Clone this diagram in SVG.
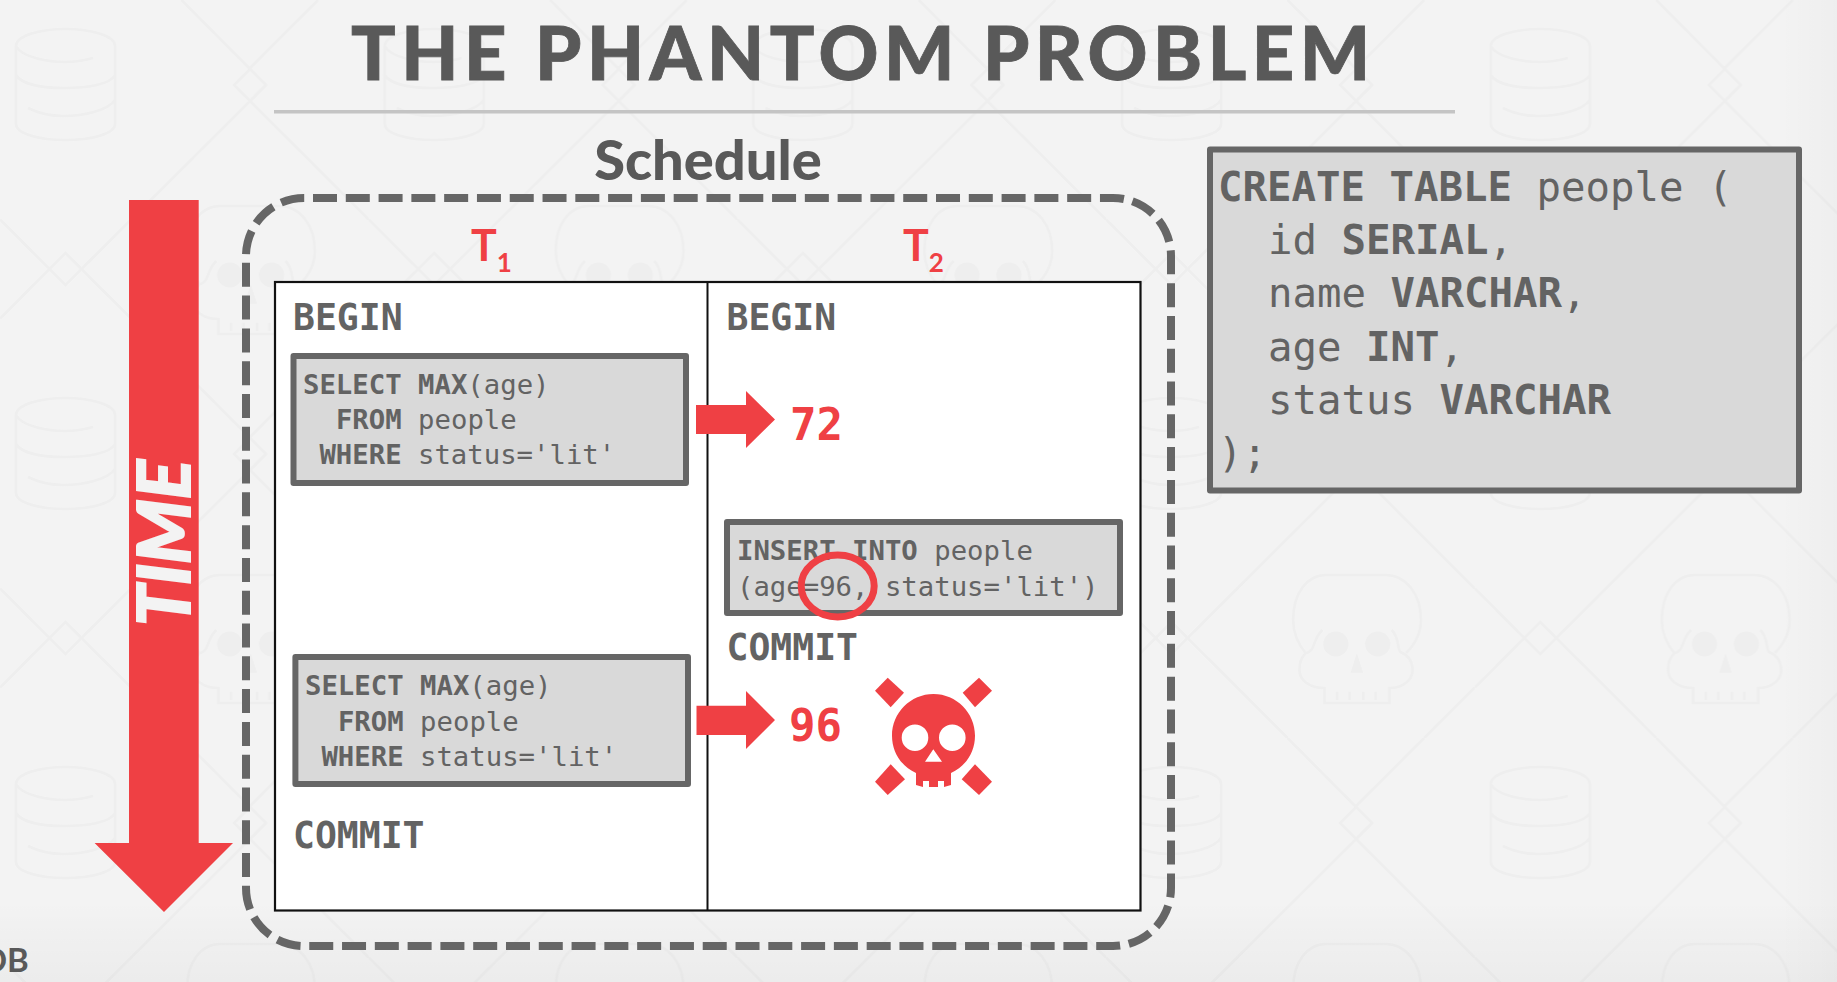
<svg xmlns="http://www.w3.org/2000/svg" width="1837" height="982" viewBox="0 0 1837 982">
<style>
.sans{font-family:"Lato","Liberation Sans",sans-serif;font-weight:900;fill:#595959}
.mono{font-family:"DejaVu Sans Mono","Liberation Mono",monospace;fill:#636363}
.sql{font-size:27.3px}
.big{font-size:36.4px;font-weight:700}
.ddl{font-size:40.7px}
.b{font-weight:700}
.red{fill:#ef4044}
.tn{font-family:"Lato","Liberation Sans",sans-serif;font-weight:700;fill:#ef4044}
.box{fill:#d9d9d9;stroke:#666;stroke-width:6;stroke-linejoin:round}
.wm{fill:none;stroke:#eeeeee;stroke-width:2.6}
.wf{fill:#eeeeee}
</style>
<defs>
<pattern id="bg" width="368.7" height="369" patternUnits="userSpaceOnUse">
<g class="wm">
<path d="M250 69L266 85L250 101L234 85ZM65.500 253L81.500 269L65.500 285L49.500 269Z"/>
<path d="M81.500 269L181.500 369M181.500 0L250 69M250 101L368.700 219.700M0 219.500L49.500 269M266 85L81.500 269M49.500 269L0 318.500M368.700 318.500L318 369M318 0L250 68"/>
<path d="M16 46V124C16 134 40 140 65.5 140S115 134 115 124V46C115 36 92 29 65.5 29S16 36 16 46ZM16 46C22 58 50 62 65 62C76 62 86 60 93 58M16 75C22 85 45 88 65 88S110 85 115 75M28 108C40 114 50 116 63 116C85 116 108 110 115 100"/>
<path d="M199.6 284.3C192 275 187 265 187 251C187 225 200 206 220.5 206H279C300 206 314.8 225 314.8 251C314.8 265 309 275 300 284M199.6 284.3C194 289 193.3 295 193.3 301C193.3 311 203 319 218.4 319V334H283.4V319C297 319 306.4 311 306.4 301C306.4 293 302 286 293.8 282.7C291 278 293 268 285.5 261M199.6 284.3C210 282 206 270 216.3 261M231 322.7V331M243.6 322.7V331M257 322.7V331M269.5 322.7V331"/>
</g>
<ellipse class="wf" cx="229.7" cy="275" rx="12.6" ry="12.5"/>
<ellipse class="wf" cx="271.6" cy="275" rx="12.6" ry="12.5"/>
<path class="wf" d="M250.7 284.3L257 303.7H244.4Z"/>
</pattern>
<linearGradient id="fadeB" x1="0" y1="0" x2="0" y2="1"><stop offset="0" stop-color="#000" stop-opacity="0"/><stop offset="1" stop-color="#000" stop-opacity=".03"/></linearGradient>
<linearGradient id="fadeR" x1="0" y1="0" x2="1" y2="0"><stop offset="0" stop-color="#000" stop-opacity="0"/><stop offset="1" stop-color="#000" stop-opacity=".02"/></linearGradient>
</defs>

<g id="background">
<rect width="1837" height="982" fill="#f3f3f3"/>
<rect width="1837" height="982" fill="url(#bg)"/>
<rect y="900" width="1837" height="82" fill="url(#fadeB)"/>
<rect x="1780" width="57" height="982" fill="url(#fadeR)"/>
</g>

<g id="title">
<text class="sans" x="351" y="80" font-size="74" letter-spacing="5.5" stroke="#595959" stroke-width="0.8">THE PHANTOM PROBLEM</text>
<rect x="274" y="110" width="1181" height="3.5" fill="#c4c4c4"/>
</g>
<text id="logo" class="sans" x="-18" y="972" font-size="33" style="font-weight:700">DB</text>

<g id="schedule">
<text class="sans" x="708" y="180" font-size="56" text-anchor="middle">Schedule</text>
<rect x="246" y="198" width="925" height="748" rx="58" ry="58" fill="none" stroke="#666" stroke-width="8" stroke-dasharray="24 8.79" stroke-dashoffset="-9"/>
</g>

<g id="t1-label"><text class="tn" x="471" y="261" font-size="43">T<tspan font-size="26" dy="11">1</tspan></text></g>
<g id="t2-label"><text class="tn" x="903" y="261" font-size="43">T<tspan font-size="26" dy="11">2</tspan></text></g>

<g id="table">
<rect x="275" y="282" width="865.500" height="628.500" fill="#fff" stroke="#111" stroke-width="2.200"/>
<line x1="707.500" y1="282" x2="707.500" y2="910.500" stroke="#111" stroke-width="2"/>
</g>

<g id="t1-begin"><text class="mono big" x="293" y="329.500">BEGIN</text></g>
<g id="t2-begin"><text class="mono big" x="726.500" y="329.500">BEGIN</text></g>

<g id="t1-select-1">
<rect class="box" x="293.500" y="356" width="392.500" height="127"/>
<text class="mono sql" x="303" y="393.500"><tspan class="b">SELECT MAX</tspan>(age)</text>
<text class="mono sql" x="335.900" y="428.500"><tspan class="b">FROM</tspan> people</text>
<text class="mono sql" x="319.400" y="464"><tspan class="b">WHERE</tspan> status='lit'</text>
</g>

<g id="result-72"><text class="mono b red" x="790" y="440" font-size="44">72</text></g>

<g id="t2-insert">
<rect class="box" x="727" y="522" width="393" height="91"/>
<text class="mono sql" x="737" y="559.500"><tspan class="b">INSERT INTO</tspan> people</text>
<text class="mono sql" x="737" y="595.500">(age=96, status='lit')</text>
<ellipse cx="837.700" cy="586" rx="36.500" ry="31" fill="none" stroke="#ef4044" stroke-width="7"/>
</g>

<g id="t2-commit"><text class="mono big" x="726.500" y="660">COMMIT</text></g>

<g id="t1-select-2">
<rect class="box" x="295.400" y="657" width="392.600" height="127"/>
<text class="mono sql" x="305" y="695"><tspan class="b">SELECT MAX</tspan>(age)</text>
<text class="mono sql" x="337.900" y="730.500"><tspan class="b">FROM</tspan> people</text>
<text class="mono sql" x="321.400" y="766"><tspan class="b">WHERE</tspan> status='lit'</text>
</g>

<g id="result-96"><text class="mono b red" x="789" y="741" font-size="44">96</text></g>

<g id="skull" class="red">
<path d="M887.700 677.700L904 692.700L890.700 707.300L875 690.700Z"/>
<path d="M979 677.700L992 690.700L975 707.300L962.700 692.700Z"/>
<path d="M890.700 764.300L905 779.300L887.700 795L875 781.700Z"/>
<path d="M975 764.300L992 781.700L979 795L961.700 779.300Z"/>
<path fill-rule="evenodd" d="M916 773C901 766 892 752 892 735.700C892 712.700 910.500 694 933.500 694S975 712.700 975 735.700C975 752 966 766 951 773V785L944 787V781H938V787H929V781H923V787L916 785ZM915 724.400A13.300 13.300 0 1 0 915 751A13.300 13.300 0 1 0 915 724.400ZM952.300 724.400A13.300 13.300 0 1 0 952.300 751A13.300 13.300 0 1 0 952.300 724.400ZM933.300 749.300L942 761.700H925Z"/>
</g>

<g id="t1-commit"><text class="mono big" x="293" y="847.500">COMMIT</text></g>

<g id="ddl">
<rect class="box" x="1210" y="149.500" width="589" height="341"/>
<text class="mono ddl" x="1218" y="201"><tspan class="b">CREATE TABLE</tspan> people (</text>
<text class="mono ddl" x="1268" y="254">id <tspan class="b">SERIAL</tspan>,</text>
<text class="mono ddl" x="1268" y="307">name <tspan class="b">VARCHAR</tspan>,</text>
<text class="mono ddl" x="1268" y="361">age <tspan class="b">INT</tspan>,</text>
<text class="mono ddl" x="1268" y="413.500">status <tspan class="b">VARCHAR</tspan></text>
<text class="mono ddl" x="1218" y="467">);</text>
</g>

<g id="connectors">
<path class="red" d="M129 200H198.700V843H233L164 912L94.600 843H129Z"/>
<path class="red" d="M696 405H746V391L775 419.500L746 448V434H696Z"/>
<path class="red" d="M696.500 705.700H746V691L775 720L746 749V735H696.500Z"/>
</g>

<g id="time-label"><text transform="translate(190,626) rotate(-90)" font-family="Lato,'Liberation Sans',sans-serif" font-weight="900" font-style="italic" font-size="73" fill="#f3f3f3" stroke="#f3f3f3" stroke-width="2">TIME</text></g>
</svg>
